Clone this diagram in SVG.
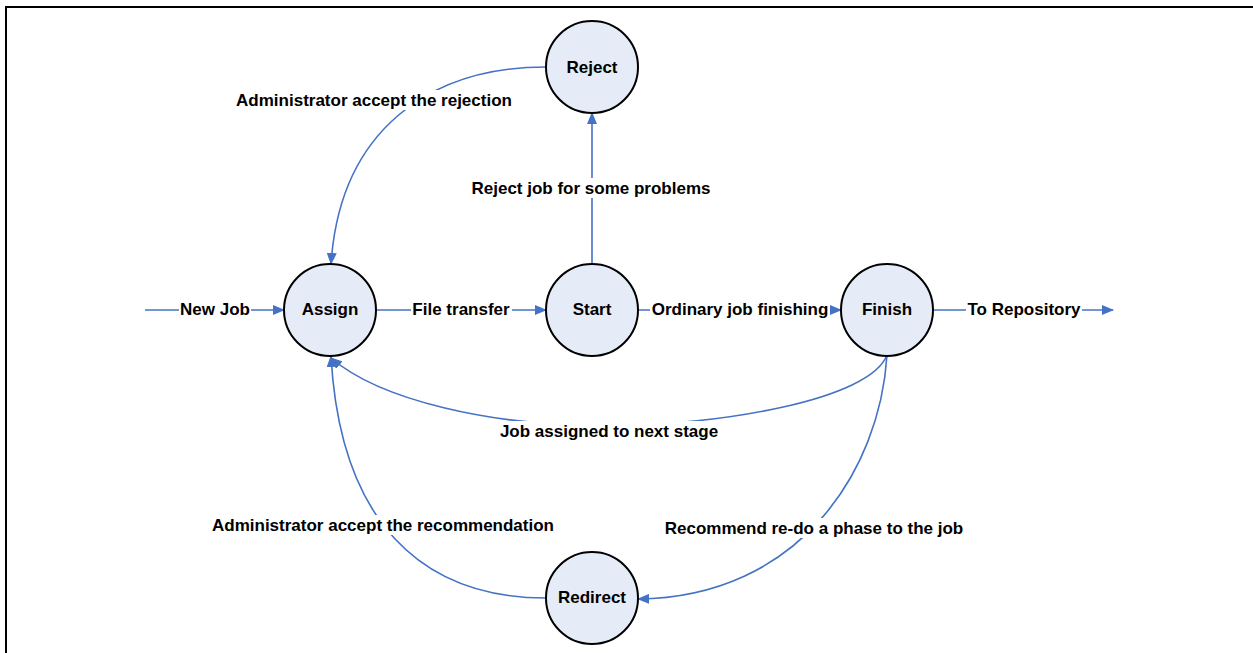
<svg xmlns="http://www.w3.org/2000/svg" width="1253" height="653" viewBox="0 0 1253 653">
<style>
.node circle{fill:#E6ECF7;stroke:#000;stroke-width:2}
.node text,.lbl text{font-family:"Liberation Sans",Arial,sans-serif;font-weight:bold;font-size:17px;fill:#000;text-anchor:middle;dominant-baseline:central}
.edge{fill:none;stroke:#4472C4;stroke-width:1.6}
.lbl rect{fill:#fff}
</style>
<defs>
<marker id="arr" markerWidth="12" markerHeight="10" refX="11" refY="5" orient="auto" markerUnits="userSpaceOnUse">
<path d="M0,0 L12,5 L0,10 Z" fill="#4472C4"/>
</marker>
</defs>
<rect x="6" y="7" width="1260" height="660" fill="#fff" stroke="#000" stroke-width="2"/>
<g id="connectors">
<path class="edge" d="M145,310 L284,310" marker-end="url(#arr)"/>
<path class="edge" d="M376,310 L546,310" marker-end="url(#arr)"/>
<path class="edge" d="M638,310 L841,310" marker-end="url(#arr)"/>
<path class="edge" d="M933,310 L1113,310" marker-end="url(#arr)"/>
<path class="edge" d="M592,264 L592,113" marker-end="url(#arr)"/>
<path class="edge" d="M546,67 C430,67 340,130 331,264" marker-end="url(#arr)"/>
<path class="edge" d="M887,355 C870,400 720,425 609,426 C490,426 380,400 331,358" marker-end="url(#arr)"/>
<path class="edge" d="M887,355 C880,470 800,597 638,599" marker-end="url(#arr)"/>
<path class="edge" d="M546,598 C420,598 340,520 331,356" marker-end="url(#arr)"/>
<g class="lbl">
<rect x="179" y="300" width="72" height="20"/><text x="215" y="309">New Job</text>
<rect x="411" y="300" width="101" height="20"/><text x="461" y="309">File transfer</text>
<rect x="650" y="300" width="180" height="20"/><text x="740" y="309">Ordinary job finishing</text>
<rect x="966" y="300" width="116" height="20"/><text x="1024" y="309">To Repository</text>
<rect x="470" y="178" width="242" height="20"/><text x="591" y="188">Reject job for some problems</text>
<rect x="234" y="90" width="280" height="20"/><text x="374" y="100">Administrator accept the rejection</text>
<rect x="498" y="421" width="222" height="20"/><text x="609" y="431">Job assigned to next stage</text>
<rect x="663" y="518" width="302" height="20"/><text x="814" y="528">Recommend re-do a phase to the job</text>
<rect x="210" y="515" width="346" height="20"/><text x="383" y="525">Administrator accept the recommendation</text>
</g>
</g>
<g id="assign" class="node"><circle cx="330" cy="310" r="46"/><text x="330" y="309">Assign</text></g>
<g id="start" class="node"><circle cx="592" cy="310" r="46"/><text x="592" y="309">Start</text></g>
<g id="finish" class="node"><circle cx="887" cy="310" r="46"/><text x="887" y="309">Finish</text></g>
<g id="reject" class="node"><circle cx="592" cy="67" r="46"/><text x="592" y="67">Reject</text></g>
<g id="redirect" class="node"><circle cx="592" cy="598" r="46"/><text x="592" y="597">Redirect</text></g>
</svg>
